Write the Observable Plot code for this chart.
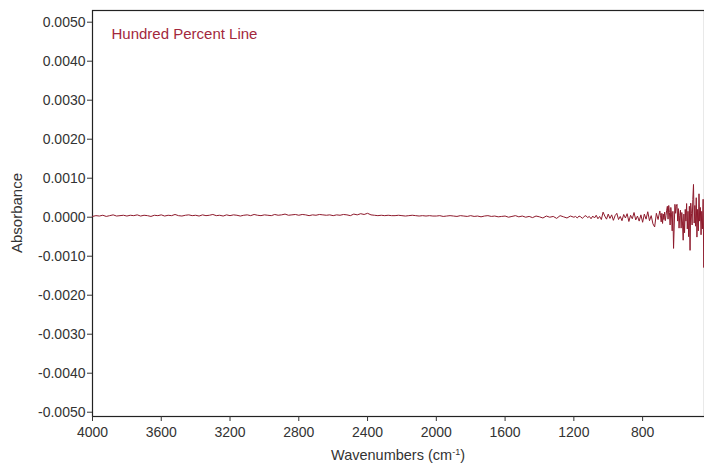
<!DOCTYPE html>
<html>
<head>
<meta charset="utf-8">
<script src="https://cdn.jsdelivr.net/npm/d3@7"></script>
<script src="https://cdn.jsdelivr.net/npm/@observablehq/plot@0.6"></script>
<style>
  html, body { margin: 0; padding: 0; background: #fff; }
  #chart { width: 704px; height: 464px; }
</style>
</head>
<body>
<div id="chart"></div>
<script>
// Absorbance values in units of 1e-5
// Segment A: 4000 → 1200 cm-1, every 20 cm-1
const flatValues = [
  2,4,3,5,2,4,6,3,4,5,
  3,5,4,6,3,5,4,2,5,4,
  6,3,5,4,7,4,3,5,6,4,
  5,3,6,4,5,7,4,5,3,6,
  4,6,5,3,5,6,4,7,5,4,
  6,5,4,7,5,6,8,5,6,7,
  5,7,6,4,6,5,7,6,5,6,
  4,6,5,7,6,4,8,6,9,7,
  10,6,5,4,5,4,5,4,4,5,
  4,3,4,5,4,3,4,3,4,3,
  3,4,2,3,4,3,2,4,3,2,
  4,2,3,1,3,4,2,3,1,2,
  3,0,2,4,1,3,0,2,-1,3,
  1,-2,3,0,2,-3,4,1,-2,3,
  0
];
// Segment B: 1190 → 700 cm-1, every 10 cm-1
const midValues = [
  2,-2,3,1,-3,2,4,-1,2,-4,
  3,-2,5,-4,2,-6,13,3,-5,8,
  -3,6,-8,4,10,-6,2,-9,7,-2,
  9,-11,5,-4,12,-7,3,-10,6,-13,
  8,-5,14,-9,4,-17,-25,10,-6,16
];
// Segment C: 696 → 440 cm-1, every 4 cm-1
const lowValues = [
  5,-12,10,-16,8,-6,13,-9,4,18,
  28,-5,30,12,-20,25,8,-35,15,-80,
  -20,33,10,28,33,-10,22,-28,5,18,
  -28,12,-15,-59,8,-40,20,-10,35,-30,
  15,-50,28,-85,36,10,-20,45,84,-15,
  30,-23,50,-51,20,-35,60,-10,25,-45,
  15,-30,46,-129,46
];
const flatWavenumbers = d3.range(4000, 1199, -20);
const midWavenumbers = d3.range(1190, 699, -10);
const lowWavenumbers = d3.range(696, 439, -4);

const xTicks = [4000, 3600, 3200, 2800, 2400, 2000, 1600, 1200, 800];
const yTicks = [-0.005, -0.004, -0.003, -0.002, -0.001, 0, 0.001, 0.002, 0.003, 0.004, 0.005];
const seriesLabel = "Hundred Percent Line";

const data = [];
flatWavenumbers.forEach((w, i) => data.push({w, a: flatValues[i] * 1e-5}));
midWavenumbers.forEach((w, i) => data.push({w, a: midValues[i] * 1e-5}));
lowWavenumbers.forEach((w, i) => data.push({w, a: lowValues[i] * 1e-5}));

const font = "'Liberation Sans', Arial, sans-serif";
const chart = Plot.plot({
  width: 704,
  height: 464,
  marginLeft: 92,
  marginRight: 0,
  marginTop: 10,
  marginBottom: 48,
  style: {fontFamily: font, fontSize: "14px", color: "#333", background: "#fff"},
  x: {domain: [4000, 440], ticks: xTicks, tickFormat: d => String(d), label: null},
  y: {domain: [-0.00511, 0.0053], ticks: yTicks, tickFormat: d => d.toFixed(4), label: null},
  marks: [
    Plot.frame({stroke: "#222", strokeWidth: 1.2}),
    Plot.axisX({ticks: xTicks, tickFormat: d => String(d), tickSize: 5, tickPadding: 6, fontSize: 14, label: null, stroke: "#333"}),
    Plot.axisY({ticks: yTicks, tickFormat: d => d.toFixed(4), tickSize: 5, tickPadding: 2, fontSize: 14, label: null, stroke: "#333"}),
    Plot.line(data, {x: "w", y: "a", stroke: "#8e1a2c", strokeWidth: 1}),
    Plot.text([seriesLabel], {frameAnchor: "top-left", dx: 19, dy: 18, fill: "#a3283d", fontSize: 15, text: d => d})
  ]
});

const svg = d3.select(chart);
svg.append("text")
  .attr("transform", "translate(22,213) rotate(-90)")
  .attr("text-anchor", "middle")
  .attr("font-size", 15)
  .attr("fill", "#333")
  .attr("font-family", font)
  .text("Absorbance");
const xl = svg.append("text")
  .attr("x", 398).attr("y", 460)
  .attr("text-anchor", "middle")
  .attr("font-size", 14.5)
  .attr("fill", "#333")
  .attr("font-family", font);
xl.append("tspan").text("Wavenumbers (cm");
xl.append("tspan").attr("font-size", 9).attr("dy", -5).text("-1");
xl.append("tspan").attr("dy", 5).text(")");

document.getElementById("chart").appendChild(chart);
</script>
</body>
</html>
